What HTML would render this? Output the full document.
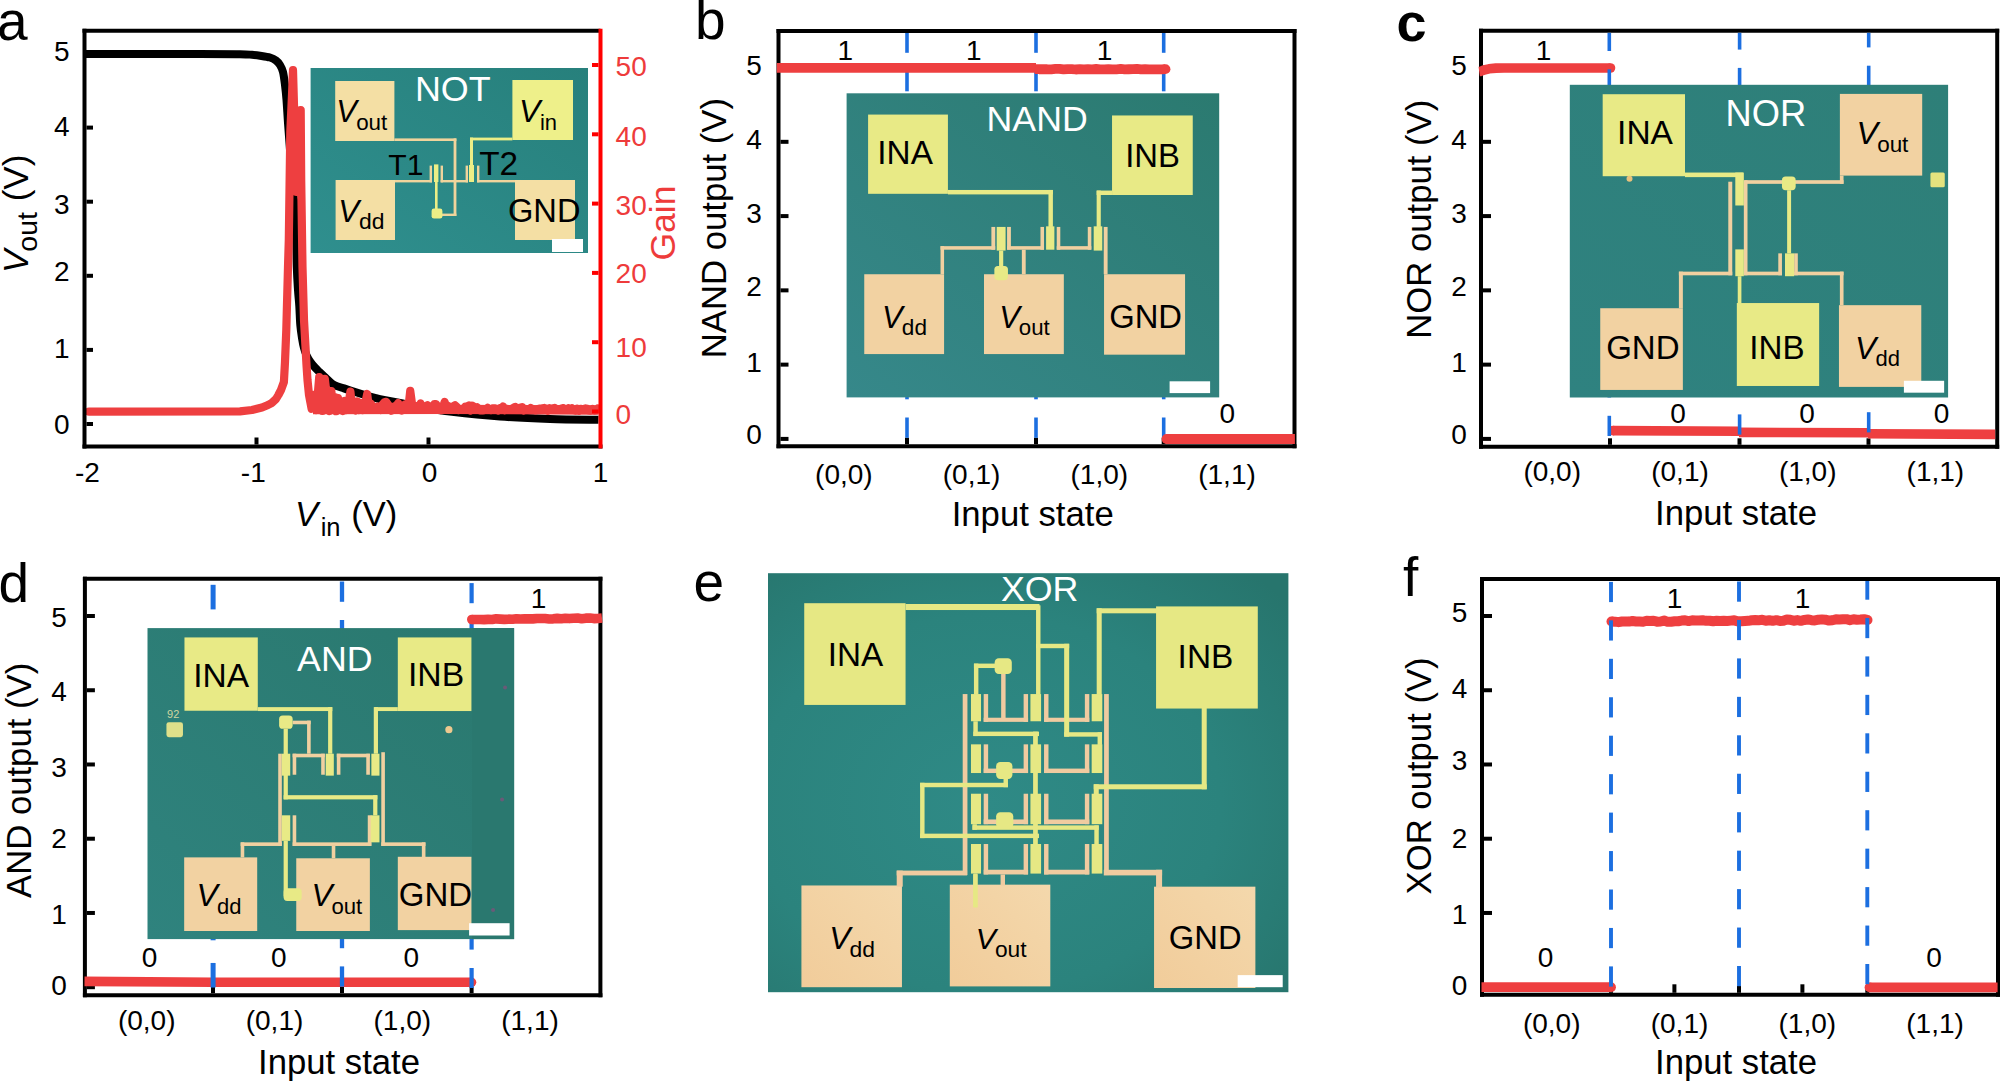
<!DOCTYPE html>
<html lang="en"><head><meta charset="utf-8"><title>Logic gates figure</title>
<style>html,body{margin:0;padding:0;background:#fff}svg{display:block}text{font-family:"Liberation Sans", Arial, sans-serif}</style>
</head><body>
<svg width="2000" height="1082" viewBox="0 0 2000 1082">
<defs>
<linearGradient id="tealA" x1="0" y1="1" x2="1" y2="0"><stop offset="0" stop-color="#2f8f8e"/><stop offset="1" stop-color="#27807c"/></linearGradient>
<linearGradient id="tealB" x1="0" y1="1" x2="1" y2="0"><stop offset="0" stop-color="#36888a"/><stop offset="1" stop-color="#2b7a70"/></linearGradient>
<linearGradient id="tealC" x1="0" y1="1" x2="1" y2="0"><stop offset="0" stop-color="#2f8280"/><stop offset="1" stop-color="#2e7f78"/></linearGradient>
<linearGradient id="tealD" x1="0" y1="1" x2="1" y2="0"><stop offset="0" stop-color="#2f837e"/><stop offset="1" stop-color="#2a786e"/></linearGradient>
<linearGradient id="padE" x1="0" y1="1" x2="1" y2="0"><stop offset="0" stop-color="#f1cc9a"/><stop offset="1" stop-color="#f4d8ac"/></linearGradient>
<radialGradient id="tealE" cx="0.42" cy="0.55" r="0.75"><stop offset="0" stop-color="#2f8a86"/><stop offset="0.6" stop-color="#2b837d"/><stop offset="1" stop-color="#27756d"/></radialGradient>
</defs>
<rect width="2000" height="1082" fill="#fff"/>
<rect x="310.6" y="68" width="277.4" height="185" fill="url(#tealA)"/>
<rect x="335.2" y="81" width="59.2" height="60" fill="#f4dfa4"/>
<rect x="512.4" y="80" width="60.6" height="60" fill="#eef08a"/>
<rect x="335.6" y="180" width="59.4" height="60" fill="#f4dfa4"/>
<rect x="515" y="180" width="60" height="60" fill="#f4dfa4"/>
<rect x="552" y="239" width="31" height="13" fill="#fff"/>
<rect x="394.4" y="138.4" width="62" height="2.6" fill="#f0d49c"/>
<rect x="453.6" y="138.4" width="2.8" height="77.6" fill="#f0d49c"/>
<rect x="442" y="213.6" width="14.4" height="2.4" fill="#f0d49c"/>
<rect x="429.6" y="165.6" width="2.4" height="16.8" fill="#f0d49c"/>
<rect x="440.6" y="165.6" width="2.4" height="16.8" fill="#f0d49c"/>
<rect x="395" y="180" width="37" height="2.4" fill="#f0d49c"/>
<rect x="440.6" y="180" width="27.4" height="2.4" fill="#f0d49c"/>
<rect x="465.6" y="165.6" width="2.4" height="16.8" fill="#f0d49c"/>
<rect x="477" y="165.6" width="2.4" height="16.8" fill="#f0d49c"/>
<rect x="477" y="180" width="38" height="2.4" fill="#f0d49c"/>
<rect x="470" y="137.6" width="42.4" height="2.8" fill="#ecee86"/>
<rect x="470" y="137.6" width="3" height="28.4" fill="#ecee86"/>
<rect x="469" y="165" width="5" height="17" fill="#ecee86"/>
<rect x="434" y="164.4" width="4.4" height="17.6" fill="#ecee86"/>
<rect x="435" y="181" width="2.6" height="29" fill="#ecee86"/>
<rect x="431.6" y="208.6" width="10.8" height="10" fill="#ecee86" rx="2.4"/>
<text x="414.94" y="101.4" font-size="35.91" fill="#fff" text-anchor="start">NOT</text>
<text x="336.2" y="122.3" font-size="30.87" fill="#000" text-anchor="start" font-style="italic">V</text>
<text x="356.15" y="129.7" font-size="22.39" fill="#000" text-anchor="start">out</text>
<text x="519.01" y="122.3" font-size="31.94" fill="#000" text-anchor="start" font-style="italic">V</text>
<text x="539.92" y="129.7" font-size="21.93" fill="#000" text-anchor="start">in</text>
<text x="388.32" y="175" font-size="30.14" fill="#000" text-anchor="start">T1</text>
<text x="479.25" y="175" font-size="33.32" fill="#000" text-anchor="start">T2</text>
<text x="338.26" y="222.4" font-size="31.33" fill="#000" text-anchor="start" font-style="italic">V</text>
<text x="359.03" y="229.4" font-size="22.89" fill="#000" text-anchor="start">dd</text>
<text x="507.97" y="222.4" font-size="32.66" fill="#000" text-anchor="start">GND</text>
<path d="M84.5 54 C103.75 54 174.08 53.97 200 54 C225.92 54.03 231.33 54.07 240 54.2 C248.67 54.33 248.67 54.55 252 54.8 C255.33 55.05 257 55.25 260 55.7 C263 56.15 267.33 56.7 270 57.5 C272.67 58.3 274.33 59.25 276 60.5 C277.67 61.75 278.83 63.08 280 65 C281.17 66.92 282.17 68.67 283 72 C283.83 75.33 284.42 80.33 285 85 C285.58 89.67 286 93.67 286.5 100 C287 106.33 287.42 114.67 288 123 C288.58 131.33 289.33 140.5 290 150 C290.67 159.5 291.33 171.67 292 180 C292.67 188.33 293.33 192 294 200 C294.67 208 295.53 216.83 296 228 C296.47 239.17 296.47 256.67 296.8 267 C297.13 277.33 297.58 283.5 298 290 C298.42 296.5 298.92 300.17 299.3 306 C299.68 311.83 299.85 319.67 300.3 325 C300.75 330.33 301.38 334.17 302 338 C302.62 341.83 303.22 345.07 304 348 C304.78 350.93 305.62 353.27 306.7 355.6 C307.78 357.93 309.08 359.97 310.5 362 C311.92 364.03 313.62 366.05 315.2 367.8 C316.78 369.55 317.87 370.47 320 372.5 C322.13 374.53 325.63 377.92 328 380 C330.37 382.08 331.53 383.6 334.2 385 C336.87 386.4 341.03 387.4 344 388.4 C346.97 389.4 348 389.73 352 391 C356 392.27 364 394.8 368 396 C372 397.2 373.33 397.53 376 398.2 C378.67 398.87 380 399.2 384 400 C388 400.8 394 401.83 400 403 C406 404.17 411.33 405.53 420 407 C428.67 408.47 438.67 410.22 452 411.8 C465.33 413.38 483.67 415.3 500 416.5 C516.33 417.7 533.58 418.45 550 419 C566.42 419.55 590.42 419.67 598.5 419.8" fill="none" stroke="#000" stroke-width="8" stroke-linejoin="round"/>
<path d="M313 409.6 L452 409.4 L598.5 410" fill="none" stroke="#ee3f40" stroke-width="9.4"/>
<path d="M89 411.7 L240 411.3 L252 410 L262 407.5 L268 405 L272 402.8 L276 399 L278.4 395 L281 390 L283.9 382 L285 362 L286.3 330 L288 267 L288.8 240 L290.3 132 L292 95 L293 70 L294.7 130 L296.5 192 L298.4 150 L300.7 110 L301.2 180 L302.5 267 L304 320 L305.4 345 L306.5 365 L307.5 380 L309 395 L311.6 408.8 L314 395 L316.5 410 L319.2 377.2 L321 392 L322.4 411 L324.8 378.8 L327 398 L329.6 411 L331.3 391 L333 405 L334.6 397 L336.2 411.2 L338 398 L339.6 409 L341.3 403 L343 411 L344.8 401 L346.5 410 L348.5 404 L350.4 391.6 L352.2 409 L354 402 L355.8 410.5 L357.5 401.5 L359.2 410 L361 403 L362.8 410 L364.8 405 L367.2 394 L369 409 L370.7 403.5 L372.4 406.14 L374.12 408.88 L375.84 407.18 L377.56 406.43 L379.28 406.82 L381 409.99 L382.72 404.4 L384.44 402.2 L386.16 401.82 L387.88 404.28 L389.6 406.35 L391.32 410.79 L393.04 409.81 L394.76 406.15 L396.48 405.59 L398.2 403.2 L399.92 409.72 L401.64 410.57 L403.36 409.37 L405.08 404.44 L406.8 405.02 L408.52 407 L410.24 390.8 L411.96 403.52 L413.68 407.57 L415.4 408.25 L417.12 406.17 L418.84 408.26 L420.56 403.45 L422.28 406.92 L424 406.17 L425.72 406.23 L427.44 405.19 L429.16 406.56 L430.88 406.55 L432.6 407.51 L434.32 404 L436.04 404.07 L437.76 407.69 L439.48 408.13 L441.2 410.19 L442.92 407.17 L444.64 402 L446.36 406.94 L448.08 405.9 L449.8 407.08 L451.52 408.67 L453.24 406.2 L454.96 405.21 L456.68 406.81 L458.4 410.04 L460.12 409.25 L461.84 409.24 L463.56 409.85 L465.28 406.6 L467 406.5 L468.72 405.55 L470.44 410.52 L472.16 405.61 L473.88 406.52 L475.6 409.09 L477.32 407.47 L479.04 410.07 L480.76 410.51 L482.48 410.44 L484.2 410.23 L485.92 409.25 L487.64 407.84 L489.36 409.95 L491.08 410.06 L492.8 408.38 L494.52 408.32 L496.24 408.67 L497.96 410.33 L499.68 408.33 L501.4 409.59 L503.12 406.57 L504.84 410.14 L506.56 408.8 L508.28 409.1 L510 409.06 L511.72 408.81 L513.44 407.86 L515.16 406.94 L516.88 408.76 L518.6 408.34 L520.32 407.65 L522.04 407.15 L523.76 410.47 L525.48 408.96 L527.2 409.56 L528.92 409.21 L530.64 407.95 L532.36 409.04 L534.08 409.45 L535.8 410.35 L537.52 409.19 L539.24 408.66 L540.96 408.72 L542.68 408.3 L544.4 407.95 L546.12 408.63 L547.84 410.69 L549.56 408.21 L551.28 408.54 L553 408.85 L554.72 407.94 L556.44 409.07 L558.16 409.2 L559.88 409.21 L561.6 408.43 L563.32 408.11 L565.04 409.87 L566.76 409.59 L568.48 408.24 L570.2 409.45 L571.92 408.26 L573.64 409.83 L575.36 410.63 L577.08 408.94 L578.8 410.58 L580.52 408.78 L582.24 409.14 L583.96 408.96 L585.68 408.44 L587.4 408.81 L589.12 410.44 L590.84 410.59 L592.56 409.01 L594.28 410.57 L596 410.43 L597.72 408.69" fill="none" stroke="#ee3f40" stroke-width="8.2" stroke-linejoin="round" stroke-linecap="round"/>
<line x1="82.5" y1="30.8" x2="600.5" y2="30.8" stroke="#000" stroke-width="4"/>
<line x1="84.5" y1="28.8" x2="84.5" y2="448.5" stroke="#000" stroke-width="4"/>
<line x1="82.5" y1="446.5" x2="602.5" y2="446.5" stroke="#000" stroke-width="4"/>
<line x1="600.5" y1="28.8" x2="600.5" y2="448.5" stroke="#ff0000" stroke-width="4"/>
<line x1="86.5" y1="424" x2="93" y2="424" stroke="#000" stroke-width="4"/>
<text x="69.5" y="434.2" font-size="28" fill="#000" text-anchor="end">0</text>
<line x1="86.5" y1="349.9" x2="93" y2="349.9" stroke="#000" stroke-width="4"/>
<text x="69.5" y="357.5" font-size="28" fill="#000" text-anchor="end">1</text>
<line x1="86.5" y1="275.8" x2="93" y2="275.8" stroke="#000" stroke-width="4"/>
<text x="69.5" y="280.7" font-size="28" fill="#000" text-anchor="end">2</text>
<line x1="86.5" y1="201.7" x2="93" y2="201.7" stroke="#000" stroke-width="4"/>
<text x="69.5" y="214" font-size="28" fill="#000" text-anchor="end">3</text>
<line x1="86.5" y1="127.6" x2="93" y2="127.6" stroke="#000" stroke-width="4"/>
<text x="69.5" y="136.3" font-size="28" fill="#000" text-anchor="end">4</text>
<line x1="86.5" y1="53.5" x2="93" y2="53.5" stroke="#000" stroke-width="4"/>
<text x="69.5" y="60.5" font-size="28" fill="#000" text-anchor="end">5</text>
<line x1="256.5" y1="444.5" x2="256.5" y2="437.5" stroke="#000" stroke-width="4"/>
<line x1="428.5" y1="444.5" x2="428.5" y2="437.5" stroke="#000" stroke-width="4"/>
<text x="87.5" y="482" font-size="28" fill="#000" text-anchor="middle">-2</text>
<text x="253.3" y="482" font-size="28" fill="#000" text-anchor="middle">-1</text>
<text x="429.5" y="482" font-size="28" fill="#000" text-anchor="middle">0</text>
<text x="600.5" y="482" font-size="28" fill="#000" text-anchor="middle">1</text>
<line x1="592" y1="411.5" x2="598.5" y2="411.5" stroke="#ff0000" stroke-width="4"/>
<text x="615.6" y="424" font-size="28" fill="#ee3b3b" text-anchor="start">0</text>
<line x1="592" y1="342.2" x2="598.5" y2="342.2" stroke="#ff0000" stroke-width="4"/>
<text x="615.6" y="357.3" font-size="28" fill="#ee3b3b" text-anchor="start">10</text>
<line x1="592" y1="272.9" x2="598.5" y2="272.9" stroke="#ff0000" stroke-width="4"/>
<text x="615.6" y="282.7" font-size="28" fill="#ee3b3b" text-anchor="start">20</text>
<line x1="592" y1="203.6" x2="598.5" y2="203.6" stroke="#ff0000" stroke-width="4"/>
<text x="615.6" y="214.7" font-size="28" fill="#ee3b3b" text-anchor="start">30</text>
<line x1="592" y1="134.3" x2="598.5" y2="134.3" stroke="#ff0000" stroke-width="4"/>
<text x="615.6" y="146" font-size="28" fill="#ee3b3b" text-anchor="start">40</text>
<line x1="592" y1="65" x2="598.5" y2="65" stroke="#ff0000" stroke-width="4"/>
<text x="615.6" y="75.8" font-size="28" fill="#ee3b3b" text-anchor="start">50</text>
<text x="0" y="0" font-size="35" fill="#000" text-anchor="start" transform="translate(27.5 273) rotate(-90)"><tspan font-style="italic">V</tspan><tspan font-size="28.5" dy="9" dx="-2">out</tspan><tspan dy="-9" dx="1"> (V)</tspan></text>
<text x="295" y="525.8" font-size="34.5" fill="#000" text-anchor="start"><tspan font-style="italic">V</tspan><tspan font-size="25.5" dy="10.4" dx="2.7">in</tspan><tspan dy="-10.4" dx="1"> (V)</tspan></text>
<text x="0" y="0" font-size="35.5" fill="#ee3b3b" text-anchor="start" transform="translate(674.6 260.6) rotate(-90)">Gain</text>
<text x="-3" y="40" font-size="55" fill="#000" text-anchor="start">a</text>
<line x1="776.5" y1="31" x2="1296.5" y2="31" stroke="#000" stroke-width="4"/>
<line x1="778.5" y1="29" x2="778.5" y2="448.2" stroke="#000" stroke-width="4"/>
<line x1="776.5" y1="446.2" x2="1296.5" y2="446.2" stroke="#000" stroke-width="4"/>
<line x1="1294.5" y1="29" x2="1294.5" y2="448.2" stroke="#000" stroke-width="4"/>
<line x1="780.5" y1="438.9" x2="788.5" y2="438.9" stroke="#000" stroke-width="4"/>
<text x="761.8" y="444" font-size="28" fill="#000" text-anchor="end">0</text>
<line x1="780.5" y1="364.63" x2="788.5" y2="364.63" stroke="#000" stroke-width="4"/>
<text x="761.8" y="372.2" font-size="28" fill="#000" text-anchor="end">1</text>
<line x1="780.5" y1="290.36" x2="788.5" y2="290.36" stroke="#000" stroke-width="4"/>
<text x="761.8" y="295.9" font-size="28" fill="#000" text-anchor="end">2</text>
<line x1="780.5" y1="216.09" x2="788.5" y2="216.09" stroke="#000" stroke-width="4"/>
<text x="761.8" y="223.2" font-size="28" fill="#000" text-anchor="end">3</text>
<line x1="780.5" y1="141.82" x2="788.5" y2="141.82" stroke="#000" stroke-width="4"/>
<text x="761.8" y="148.5" font-size="28" fill="#000" text-anchor="end">4</text>
<line x1="780.5" y1="67.55" x2="788.5" y2="67.55" stroke="#000" stroke-width="4"/>
<text x="761.8" y="75.1" font-size="28" fill="#000" text-anchor="end">5</text>
<line x1="907" y1="444.2" x2="907" y2="437.7" stroke="#000" stroke-width="4"/>
<line x1="1036" y1="444.2" x2="1036" y2="437.7" stroke="#000" stroke-width="4"/>
<line x1="1163.7" y1="444.2" x2="1163.7" y2="437.7" stroke="#000" stroke-width="4"/>
<line x1="907" y1="33" x2="907" y2="52.8" stroke="#1c6fe0" stroke-width="3.6"/>
<line x1="907" y1="71" x2="907" y2="91.3" stroke="#1c6fe0" stroke-width="3.6"/>
<line x1="907" y1="109.5" x2="907" y2="129.8" stroke="#1c6fe0" stroke-width="3.6"/>
<line x1="907" y1="148" x2="907" y2="168.3" stroke="#1c6fe0" stroke-width="3.6"/>
<line x1="907" y1="186.5" x2="907" y2="206.8" stroke="#1c6fe0" stroke-width="3.6"/>
<line x1="907" y1="225" x2="907" y2="245.3" stroke="#1c6fe0" stroke-width="3.6"/>
<line x1="907" y1="263.5" x2="907" y2="283.8" stroke="#1c6fe0" stroke-width="3.6"/>
<line x1="907" y1="302" x2="907" y2="322.3" stroke="#1c6fe0" stroke-width="3.6"/>
<line x1="907" y1="340.5" x2="907" y2="360.8" stroke="#1c6fe0" stroke-width="3.6"/>
<line x1="907" y1="379" x2="907" y2="399.3" stroke="#1c6fe0" stroke-width="3.6"/>
<line x1="907" y1="417.5" x2="907" y2="437.8" stroke="#1c6fe0" stroke-width="3.6"/>
<line x1="1036" y1="33" x2="1036" y2="52.8" stroke="#1c6fe0" stroke-width="3.6"/>
<line x1="1036" y1="71" x2="1036" y2="91.3" stroke="#1c6fe0" stroke-width="3.6"/>
<line x1="1036" y1="109.5" x2="1036" y2="129.8" stroke="#1c6fe0" stroke-width="3.6"/>
<line x1="1036" y1="148" x2="1036" y2="168.3" stroke="#1c6fe0" stroke-width="3.6"/>
<line x1="1036" y1="186.5" x2="1036" y2="206.8" stroke="#1c6fe0" stroke-width="3.6"/>
<line x1="1036" y1="225" x2="1036" y2="245.3" stroke="#1c6fe0" stroke-width="3.6"/>
<line x1="1036" y1="263.5" x2="1036" y2="283.8" stroke="#1c6fe0" stroke-width="3.6"/>
<line x1="1036" y1="302" x2="1036" y2="322.3" stroke="#1c6fe0" stroke-width="3.6"/>
<line x1="1036" y1="340.5" x2="1036" y2="360.8" stroke="#1c6fe0" stroke-width="3.6"/>
<line x1="1036" y1="379" x2="1036" y2="399.3" stroke="#1c6fe0" stroke-width="3.6"/>
<line x1="1036" y1="417.5" x2="1036" y2="437.8" stroke="#1c6fe0" stroke-width="3.6"/>
<line x1="1163.7" y1="33" x2="1163.7" y2="52.8" stroke="#1c6fe0" stroke-width="3.6"/>
<line x1="1163.7" y1="71" x2="1163.7" y2="91.3" stroke="#1c6fe0" stroke-width="3.6"/>
<line x1="1163.7" y1="109.5" x2="1163.7" y2="129.8" stroke="#1c6fe0" stroke-width="3.6"/>
<line x1="1163.7" y1="148" x2="1163.7" y2="168.3" stroke="#1c6fe0" stroke-width="3.6"/>
<line x1="1163.7" y1="186.5" x2="1163.7" y2="206.8" stroke="#1c6fe0" stroke-width="3.6"/>
<line x1="1163.7" y1="225" x2="1163.7" y2="245.3" stroke="#1c6fe0" stroke-width="3.6"/>
<line x1="1163.7" y1="263.5" x2="1163.7" y2="283.8" stroke="#1c6fe0" stroke-width="3.6"/>
<line x1="1163.7" y1="302" x2="1163.7" y2="322.3" stroke="#1c6fe0" stroke-width="3.6"/>
<line x1="1163.7" y1="340.5" x2="1163.7" y2="360.8" stroke="#1c6fe0" stroke-width="3.6"/>
<line x1="1163.7" y1="379" x2="1163.7" y2="399.3" stroke="#1c6fe0" stroke-width="3.6"/>
<line x1="1163.7" y1="417.5" x2="1163.7" y2="437.8" stroke="#1c6fe0" stroke-width="3.6"/>
<path d="M776.8 67.8 L1036 67.8" fill="none" stroke="#ee3f40" stroke-width="9.8" stroke-linecap="butt" stroke-linejoin="round"/>
<path d="M1035 69.04 L1039.08 69.23 L1043.16 69.12 L1047.23 69.26 L1051.31 69.28 L1055.39 68.94 L1059.47 68.91 L1063.55 69.4 L1067.62 69.06 L1071.7 69.04 L1075.78 69.5 L1079.86 69.18 L1083.94 69.4 L1088.02 69.19 L1092.09 69.28 L1096.17 68.99 L1100.25 69.28 L1104.33 69.42 L1108.41 69.21 L1112.48 69.34 L1116.56 69.3 L1120.64 68.94 L1124.72 69.35 L1128.8 69.25 L1132.88 69.08 L1136.95 68.92 L1141.03 69.42 L1145.11 69.18 L1149.19 69.33 L1153.27 69.43 L1157.34 69.33 L1161.42 69.45 L1165.5 69.14" fill="none" stroke="#ee3f40" stroke-width="9.8" stroke-linecap="butt" stroke-linejoin="round"/>
<circle cx="1165.5" cy="69.14" r="4.9" fill="#ee3f40"/>
<path d="M1166.5 439 L1294.9 439" fill="none" stroke="#ee3f40" stroke-width="9.8" stroke-linecap="butt" stroke-linejoin="round"/>
<circle cx="1166.5" cy="439" r="4.9" fill="#ee3f40"/>
<rect x="846.6" y="93.3" width="372.6" height="304.1" fill="url(#tealB)"/>
<rect x="868.09" y="114.57" width="79.83" height="79.24" fill="#e8ea86"/>
<rect x="1112.03" y="115.46" width="80.72" height="79.54" fill="#e8ea86"/>
<rect x="864.25" y="274.24" width="79.83" height="79.83" fill="#f2d2a2"/>
<rect x="984" y="274.24" width="79.83" height="79.83" fill="#f2d2a2"/>
<rect x="1104.04" y="274.24" width="81.02" height="80.43" fill="#f2d2a2"/>
<rect x="1169.6" y="381.3" width="40.5" height="11.8" fill="#fff"/>
<rect x="940.53" y="246.15" width="3.55" height="28.09" fill="#f1d0a0"/>
<rect x="940.53" y="246.15" width="54.7" height="3.55" fill="#f1d0a0"/>
<rect x="991.39" y="226.93" width="3.84" height="22.77" fill="#f1d0a0"/>
<rect x="1007.06" y="226.93" width="3.84" height="22.77" fill="#f1d0a0"/>
<rect x="1007.06" y="246.15" width="36.96" height="3.55" fill="#f1d0a0"/>
<rect x="1040.47" y="226.93" width="3.55" height="22.77" fill="#f1d0a0"/>
<rect x="1021.85" y="249.7" width="3.84" height="24.54" fill="#f1d0a0"/>
<rect x="1056.74" y="226.93" width="3.55" height="22.77" fill="#f1d0a0"/>
<rect x="1056.74" y="246.15" width="34.59" height="3.55" fill="#f1d0a0"/>
<rect x="1087.78" y="226.93" width="3.55" height="22.77" fill="#f1d0a0"/>
<rect x="1103.75" y="226.93" width="3.84" height="47.31" fill="#f1d0a0"/>
<rect x="947.92" y="189.97" width="104.97" height="4.44" fill="#e8ea86"/>
<rect x="1048.46" y="189.97" width="4.44" height="36.96" fill="#e8ea86"/>
<rect x="1046.09" y="226.34" width="8.28" height="23.36" fill="#e8ea86"/>
<rect x="1096.65" y="190.56" width="15.38" height="4.44" fill="#e8ea86"/>
<rect x="1096.65" y="190.56" width="4.14" height="36.37" fill="#e8ea86"/>
<rect x="1093.7" y="226.34" width="8.57" height="24.25" fill="#e8ea86"/>
<rect x="996.71" y="226.93" width="8.87" height="23.65" fill="#e8ea86"/>
<rect x="999.08" y="250.58" width="4.14" height="16.26" fill="#e8ea86"/>
<rect x="994.35" y="265.96" width="13.6" height="14.19" fill="#e8ea86" rx="3.55"/>
<text x="986.55" y="130.7" font-size="35.71" fill="#fff" text-anchor="start">NAND</text>
<text x="877.32" y="164.4" font-size="33.32" fill="#000" text-anchor="start">INA</text>
<text x="1125.26" y="167.3" font-size="32.84" fill="#000" text-anchor="start">INB</text>
<text x="881.99" y="327.5" font-size="31.03" fill="#000" text-anchor="start" font-style="italic">V</text>
<text x="901.84" y="334.6" font-size="22.59" fill="#000" text-anchor="start">dd</text>
<text x="999.29" y="327.5" font-size="31.03" fill="#000" text-anchor="start" font-style="italic">V</text>
<text x="1018.85" y="334.6" font-size="22.24" fill="#000" text-anchor="start">out</text>
<text x="1109.16" y="327.5" font-size="32.8" fill="#000" text-anchor="start">GND</text>
<text x="843.9" y="484" font-size="28" fill="#000" text-anchor="middle">(0,0)</text>
<text x="971.6" y="484" font-size="28" fill="#000" text-anchor="middle">(0,1)</text>
<text x="1099.3" y="484" font-size="28" fill="#000" text-anchor="middle">(1,0)</text>
<text x="1227" y="484" font-size="28" fill="#000" text-anchor="middle">(1,1)</text>
<text x="1032.7" y="525.7" font-size="34.7" fill="#000" text-anchor="middle">Input state</text>
<text x="0" y="0" font-size="34.7" fill="#000" text-anchor="middle" transform="translate(725.7 228.1) rotate(-90)">NAND output (V)</text>
<text x="845.3" y="59.5" font-size="28" fill="#000" text-anchor="middle">1</text>
<text x="973.8" y="59.5" font-size="28" fill="#000" text-anchor="middle">1</text>
<text x="1104.6" y="59.5" font-size="28" fill="#000" text-anchor="middle">1</text>
<text x="1227.2" y="422.6" font-size="28" fill="#000" text-anchor="middle">0</text>
<text x="695" y="38.5" font-size="55" fill="#000" text-anchor="start">b</text>
<line x1="1479" y1="30.8" x2="1999.2" y2="30.8" stroke="#000" stroke-width="4"/>
<line x1="1481" y1="28.8" x2="1481" y2="448.8" stroke="#000" stroke-width="4"/>
<line x1="1479" y1="446.8" x2="1999.2" y2="446.8" stroke="#000" stroke-width="4"/>
<line x1="1997.2" y1="28.8" x2="1997.2" y2="448.8" stroke="#000" stroke-width="4"/>
<line x1="1483" y1="438.9" x2="1491" y2="438.9" stroke="#000" stroke-width="4"/>
<text x="1466.8" y="444" font-size="28" fill="#000" text-anchor="end">0</text>
<line x1="1483" y1="364.63" x2="1491" y2="364.63" stroke="#000" stroke-width="4"/>
<text x="1466.8" y="372.2" font-size="28" fill="#000" text-anchor="end">1</text>
<line x1="1483" y1="290.36" x2="1491" y2="290.36" stroke="#000" stroke-width="4"/>
<text x="1466.8" y="295.9" font-size="28" fill="#000" text-anchor="end">2</text>
<line x1="1483" y1="216.09" x2="1491" y2="216.09" stroke="#000" stroke-width="4"/>
<text x="1466.8" y="223.2" font-size="28" fill="#000" text-anchor="end">3</text>
<line x1="1483" y1="141.82" x2="1491" y2="141.82" stroke="#000" stroke-width="4"/>
<text x="1466.8" y="148.5" font-size="28" fill="#000" text-anchor="end">4</text>
<line x1="1483" y1="67.55" x2="1491" y2="67.55" stroke="#000" stroke-width="4"/>
<text x="1466.8" y="75.1" font-size="28" fill="#000" text-anchor="end">5</text>
<line x1="1610" y1="444.8" x2="1610" y2="438.3" stroke="#000" stroke-width="4"/>
<line x1="1739.5" y1="444.8" x2="1739.5" y2="438.3" stroke="#000" stroke-width="4"/>
<line x1="1868.5" y1="444.8" x2="1868.5" y2="438.3" stroke="#000" stroke-width="4"/>
<path d="M1479.2 71.6 L1480.6 71.4 L1484 70 L1489 68.8 L1496 68.1 L1504 68 L1610.5 68" fill="none" stroke="#ee3f40" stroke-width="9.6" stroke-linecap="butt" stroke-linejoin="round"/>
<circle cx="1610.5" cy="68" r="4.8" fill="#ee3f40"/>
<path d="M1613 430.6 L1739.5 431.2" fill="none" stroke="#ee3f40" stroke-width="9.6" stroke-linecap="butt" stroke-linejoin="round"/>
<circle cx="1613" cy="430.6" r="4.8" fill="#ee3f40"/>
<path d="M1739 432.4 L1868.5 432.8" fill="none" stroke="#ee3f40" stroke-width="9.6" stroke-linecap="butt" stroke-linejoin="round"/>
<path d="M1868 433.8 L1995.2 434.4" fill="none" stroke="#ee3f40" stroke-width="9.6" stroke-linecap="butt" stroke-linejoin="round"/>
<line x1="1609.3" y1="32.8" x2="1609.3" y2="51" stroke="#1c6fe0" stroke-width="3.6"/>
<line x1="1609.3" y1="69.3" x2="1609.3" y2="89.5" stroke="#1c6fe0" stroke-width="3.6"/>
<line x1="1609.3" y1="107.8" x2="1609.3" y2="128" stroke="#1c6fe0" stroke-width="3.6"/>
<line x1="1609.3" y1="146.3" x2="1609.3" y2="166.5" stroke="#1c6fe0" stroke-width="3.6"/>
<line x1="1609.3" y1="184.8" x2="1609.3" y2="205" stroke="#1c6fe0" stroke-width="3.6"/>
<line x1="1609.3" y1="223.3" x2="1609.3" y2="243.5" stroke="#1c6fe0" stroke-width="3.6"/>
<line x1="1609.3" y1="261.8" x2="1609.3" y2="282" stroke="#1c6fe0" stroke-width="3.6"/>
<line x1="1609.3" y1="300.3" x2="1609.3" y2="320.5" stroke="#1c6fe0" stroke-width="3.6"/>
<line x1="1609.3" y1="338.8" x2="1609.3" y2="359" stroke="#1c6fe0" stroke-width="3.6"/>
<line x1="1609.3" y1="377.3" x2="1609.3" y2="397.5" stroke="#1c6fe0" stroke-width="3.6"/>
<line x1="1609.3" y1="415.8" x2="1609.3" y2="436" stroke="#1c6fe0" stroke-width="3.6"/>
<line x1="1739.6" y1="32.8" x2="1739.6" y2="49.6" stroke="#1c6fe0" stroke-width="3.6"/>
<line x1="1739.6" y1="67.9" x2="1739.6" y2="88.1" stroke="#1c6fe0" stroke-width="3.6"/>
<line x1="1739.6" y1="106.4" x2="1739.6" y2="126.6" stroke="#1c6fe0" stroke-width="3.6"/>
<line x1="1739.6" y1="144.9" x2="1739.6" y2="165.1" stroke="#1c6fe0" stroke-width="3.6"/>
<line x1="1739.6" y1="183.4" x2="1739.6" y2="203.6" stroke="#1c6fe0" stroke-width="3.6"/>
<line x1="1739.6" y1="221.9" x2="1739.6" y2="242.1" stroke="#1c6fe0" stroke-width="3.6"/>
<line x1="1739.6" y1="260.4" x2="1739.6" y2="280.6" stroke="#1c6fe0" stroke-width="3.6"/>
<line x1="1739.6" y1="298.9" x2="1739.6" y2="319.1" stroke="#1c6fe0" stroke-width="3.6"/>
<line x1="1739.6" y1="337.4" x2="1739.6" y2="357.6" stroke="#1c6fe0" stroke-width="3.6"/>
<line x1="1739.6" y1="375.9" x2="1739.6" y2="396.1" stroke="#1c6fe0" stroke-width="3.6"/>
<line x1="1739.6" y1="414.4" x2="1739.6" y2="434.6" stroke="#1c6fe0" stroke-width="3.6"/>
<line x1="1868.7" y1="32.8" x2="1868.7" y2="47.4" stroke="#1c6fe0" stroke-width="3.6"/>
<line x1="1868.7" y1="65.7" x2="1868.7" y2="85.9" stroke="#1c6fe0" stroke-width="3.6"/>
<line x1="1868.7" y1="104.2" x2="1868.7" y2="124.4" stroke="#1c6fe0" stroke-width="3.6"/>
<line x1="1868.7" y1="142.7" x2="1868.7" y2="162.9" stroke="#1c6fe0" stroke-width="3.6"/>
<line x1="1868.7" y1="181.2" x2="1868.7" y2="201.4" stroke="#1c6fe0" stroke-width="3.6"/>
<line x1="1868.7" y1="219.7" x2="1868.7" y2="239.9" stroke="#1c6fe0" stroke-width="3.6"/>
<line x1="1868.7" y1="258.2" x2="1868.7" y2="278.4" stroke="#1c6fe0" stroke-width="3.6"/>
<line x1="1868.7" y1="296.7" x2="1868.7" y2="316.9" stroke="#1c6fe0" stroke-width="3.6"/>
<line x1="1868.7" y1="335.2" x2="1868.7" y2="355.4" stroke="#1c6fe0" stroke-width="3.6"/>
<line x1="1868.7" y1="373.7" x2="1868.7" y2="393.9" stroke="#1c6fe0" stroke-width="3.6"/>
<line x1="1868.7" y1="412.2" x2="1868.7" y2="432.4" stroke="#1c6fe0" stroke-width="3.6"/>
<rect x="1569.8" y="84.8" width="378.3" height="312.7" fill="url(#tealC)"/>
<rect x="1602.68" y="94.21" width="82.32" height="82.01" fill="#e8ea86"/>
<rect x="1839.88" y="93.9" width="82.32" height="81.71" fill="#f2d2a2"/>
<rect x="1600.24" y="308.23" width="82.62" height="81.71" fill="#f2d2a2"/>
<rect x="1736.83" y="303.05" width="82.32" height="82.93" fill="#e8ea86"/>
<rect x="1838.96" y="305.18" width="82.32" height="81.71" fill="#f2d2a2"/>
<rect x="1930.43" y="172.56" width="14.33" height="14.63" fill="#e4e27e" rx="1.52"/>
<rect x="1903.9" y="380.79" width="40.24" height="11.89" fill="#fff"/>
<circle cx="1629.51" cy="178.66" r="3" fill="#e9c27c"/>
<rect x="1744.45" y="180.18" width="99.09" height="3.66" fill="#f1d0a0"/>
<rect x="1839.88" y="175.61" width="3.66" height="8.23" fill="#f1d0a0"/>
<rect x="1743.84" y="180.18" width="3.66" height="95.12" fill="#f1d0a0"/>
<rect x="1743.84" y="271.65" width="38.11" height="3.66" fill="#f1d0a0"/>
<rect x="1778.29" y="253.35" width="3.66" height="21.95" fill="#f1d0a0"/>
<rect x="1728.29" y="181.71" width="3.96" height="93.6" fill="#f1d0a0"/>
<rect x="1678.9" y="271.65" width="53.35" height="3.66" fill="#f1d0a0"/>
<rect x="1678.9" y="271.65" width="3.96" height="36.59" fill="#f1d0a0"/>
<rect x="1794.15" y="253.35" width="3.66" height="21.95" fill="#f1d0a0"/>
<rect x="1794.15" y="271.65" width="49.39" height="3.66" fill="#f1d0a0"/>
<rect x="1839.88" y="271.65" width="3.66" height="33.54" fill="#f1d0a0"/>
<rect x="1685" y="172.56" width="57.93" height="4.57" fill="#e8ea86"/>
<rect x="1735.3" y="172.56" width="8.54" height="32.93" fill="#e8ea86"/>
<rect x="1781.95" y="176.52" width="13.72" height="13.72" fill="#e8ea86" rx="3.66"/>
<rect x="1787.13" y="190.24" width="3.96" height="63.11" fill="#e8ea86"/>
<rect x="1785" y="253.35" width="9.15" height="22.87" fill="#e8ea86"/>
<rect x="1735.3" y="249.39" width="8.54" height="26.83" fill="#e8ea86"/>
<rect x="1737.74" y="276.22" width="3.66" height="27.44" fill="#e8ea86"/>
<text x="1725.51" y="125.7" font-size="36.27" fill="#fff" text-anchor="start">NOR</text>
<text x="1617.1" y="144.1" font-size="33.51" fill="#000" text-anchor="start">INA</text>
<text x="1856.58" y="144.1" font-size="32.24" fill="#000" text-anchor="start" font-style="italic">V</text>
<text x="1877.15" y="151.5" font-size="22.46" fill="#000" text-anchor="start">out</text>
<text x="1606.15" y="358.7" font-size="33.04" fill="#000" text-anchor="start">GND</text>
<text x="1749.23" y="358.7" font-size="33.17" fill="#000" text-anchor="start">INB</text>
<text x="1854.92" y="358.7" font-size="31.79" fill="#000" text-anchor="start" font-style="italic">V</text>
<text x="1875.47" y="366.3" font-size="21.99" fill="#000" text-anchor="start">dd</text>
<text x="1552.2" y="480.8" font-size="28" fill="#000" text-anchor="middle">(0,0)</text>
<text x="1680" y="480.8" font-size="28" fill="#000" text-anchor="middle">(0,1)</text>
<text x="1807.7" y="480.8" font-size="28" fill="#000" text-anchor="middle">(1,0)</text>
<text x="1935.4" y="480.8" font-size="28" fill="#000" text-anchor="middle">(1,1)</text>
<text x="1736" y="524.8" font-size="34.7" fill="#000" text-anchor="middle">Input state</text>
<text x="0" y="0" font-size="34.7" fill="#000" text-anchor="middle" transform="translate(1431 219.2) rotate(-90)">NOR output (V)</text>
<text x="1543.6" y="59.5" font-size="28" fill="#000" text-anchor="middle">1</text>
<text x="1678" y="422.6" font-size="28" fill="#000" text-anchor="middle">0</text>
<text x="1807" y="422.6" font-size="28" fill="#000" text-anchor="middle">0</text>
<text x="1941.6" y="422.6" font-size="28" fill="#000" text-anchor="middle">0</text>
<text x="1396.5" y="40.6" font-size="54" fill="#000" text-anchor="start" font-weight="bold">c</text>
<line x1="82.9" y1="578.8" x2="602.4" y2="578.8" stroke="#000" stroke-width="4"/>
<line x1="84.9" y1="576.8" x2="84.9" y2="997.2" stroke="#000" stroke-width="4"/>
<line x1="82.9" y1="995.2" x2="602.4" y2="995.2" stroke="#000" stroke-width="4"/>
<line x1="600.4" y1="576.8" x2="600.4" y2="997.2" stroke="#000" stroke-width="4"/>
<line x1="86.9" y1="987.2" x2="94.9" y2="987.2" stroke="#000" stroke-width="4"/>
<text x="66.8" y="995" font-size="28" fill="#000" text-anchor="end">0</text>
<line x1="86.9" y1="912.96" x2="94.9" y2="912.96" stroke="#000" stroke-width="4"/>
<text x="66.8" y="924.2" font-size="28" fill="#000" text-anchor="end">1</text>
<line x1="86.9" y1="838.72" x2="94.9" y2="838.72" stroke="#000" stroke-width="4"/>
<text x="66.8" y="848.4" font-size="28" fill="#000" text-anchor="end">2</text>
<line x1="86.9" y1="764.48" x2="94.9" y2="764.48" stroke="#000" stroke-width="4"/>
<text x="66.8" y="776.6" font-size="28" fill="#000" text-anchor="end">3</text>
<line x1="86.9" y1="690.24" x2="94.9" y2="690.24" stroke="#000" stroke-width="4"/>
<text x="66.8" y="701" font-size="28" fill="#000" text-anchor="end">4</text>
<line x1="86.9" y1="616" x2="94.9" y2="616" stroke="#000" stroke-width="4"/>
<text x="66.8" y="626.8" font-size="28" fill="#000" text-anchor="end">5</text>
<line x1="213" y1="993.2" x2="213" y2="986.7" stroke="#000" stroke-width="4"/>
<line x1="342" y1="993.2" x2="342" y2="986.7" stroke="#000" stroke-width="4"/>
<line x1="471.6" y1="993.2" x2="471.6" y2="986.7" stroke="#000" stroke-width="4"/>
<path d="M84.5 981.4 L213 982.2 L471.5 982.3" fill="none" stroke="#ee3f40" stroke-width="9.6" stroke-linecap="butt" stroke-linejoin="round"/>
<circle cx="471.5" cy="982.3" r="4.8" fill="#ee3f40"/>
<line x1="213.1" y1="584.8" x2="213.1" y2="609.4" stroke="#1c6fe0" stroke-width="5"/>
<line x1="213.1" y1="632.07" x2="213.1" y2="656.67" stroke="#1c6fe0" stroke-width="5"/>
<line x1="213.1" y1="679.34" x2="213.1" y2="703.94" stroke="#1c6fe0" stroke-width="5"/>
<line x1="213.1" y1="726.61" x2="213.1" y2="751.21" stroke="#1c6fe0" stroke-width="5"/>
<line x1="213.1" y1="773.88" x2="213.1" y2="798.48" stroke="#1c6fe0" stroke-width="5"/>
<line x1="213.1" y1="821.15" x2="213.1" y2="845.75" stroke="#1c6fe0" stroke-width="5"/>
<line x1="213.1" y1="868.42" x2="213.1" y2="893.02" stroke="#1c6fe0" stroke-width="5"/>
<line x1="213.1" y1="915.69" x2="213.1" y2="940.29" stroke="#1c6fe0" stroke-width="5"/>
<line x1="213.1" y1="962.96" x2="213.1" y2="987.56" stroke="#1c6fe0" stroke-width="5"/>
<line x1="342" y1="581.5" x2="342" y2="601.8" stroke="#1c6fe0" stroke-width="4.3"/>
<line x1="342" y1="619.99" x2="342" y2="640.29" stroke="#1c6fe0" stroke-width="4.3"/>
<line x1="342" y1="658.48" x2="342" y2="678.78" stroke="#1c6fe0" stroke-width="4.3"/>
<line x1="342" y1="696.97" x2="342" y2="717.27" stroke="#1c6fe0" stroke-width="4.3"/>
<line x1="342" y1="735.46" x2="342" y2="755.76" stroke="#1c6fe0" stroke-width="4.3"/>
<line x1="342" y1="773.95" x2="342" y2="794.25" stroke="#1c6fe0" stroke-width="4.3"/>
<line x1="342" y1="812.44" x2="342" y2="832.74" stroke="#1c6fe0" stroke-width="4.3"/>
<line x1="342" y1="850.93" x2="342" y2="871.23" stroke="#1c6fe0" stroke-width="4.3"/>
<line x1="342" y1="889.42" x2="342" y2="909.72" stroke="#1c6fe0" stroke-width="4.3"/>
<line x1="342" y1="927.91" x2="342" y2="948.21" stroke="#1c6fe0" stroke-width="4.3"/>
<line x1="342" y1="966.4" x2="342" y2="986.7" stroke="#1c6fe0" stroke-width="4.3"/>
<line x1="471.6" y1="583.1" x2="471.6" y2="603.2" stroke="#1c6fe0" stroke-width="4.2"/>
<line x1="471.6" y1="621.59" x2="471.6" y2="641.69" stroke="#1c6fe0" stroke-width="4.2"/>
<line x1="471.6" y1="660.08" x2="471.6" y2="680.18" stroke="#1c6fe0" stroke-width="4.2"/>
<line x1="471.6" y1="698.57" x2="471.6" y2="718.67" stroke="#1c6fe0" stroke-width="4.2"/>
<line x1="471.6" y1="737.06" x2="471.6" y2="757.16" stroke="#1c6fe0" stroke-width="4.2"/>
<line x1="471.6" y1="775.55" x2="471.6" y2="795.65" stroke="#1c6fe0" stroke-width="4.2"/>
<line x1="471.6" y1="814.04" x2="471.6" y2="834.14" stroke="#1c6fe0" stroke-width="4.2"/>
<line x1="471.6" y1="852.53" x2="471.6" y2="872.63" stroke="#1c6fe0" stroke-width="4.2"/>
<line x1="471.6" y1="891.02" x2="471.6" y2="911.12" stroke="#1c6fe0" stroke-width="4.2"/>
<line x1="471.6" y1="929.51" x2="471.6" y2="949.61" stroke="#1c6fe0" stroke-width="4.2"/>
<line x1="471.6" y1="968" x2="471.6" y2="988" stroke="#1c6fe0" stroke-width="4.2"/>
<path d="M471.8 619.49 L475.87 619.53 L479.94 619.53 L484.01 619.6 L488.07 619.42 L492.14 619.51 L496.21 618.85 L500.28 619.11 L504.35 619.41 L508.42 619.17 L512.49 619.31 L516.56 618.72 L520.62 618.93 L524.69 618.74 L528.76 618.91 L532.83 618.89 L536.9 618.46 L540.97 618.56 L545.04 618.57 L549.11 618.98 L553.17 618.84 L557.24 618.37 L561.31 618.78 L565.38 618.28 L569.45 618.58 L573.52 618.2 L577.59 618.08 L581.66 618.65 L585.73 618.15 L589.79 618.11 L593.86 618.61 L597.93 618.5 L602 618.05" fill="none" stroke="#ee3f40" stroke-width="9.6" stroke-linecap="butt" stroke-linejoin="round"/>
<circle cx="471.8" cy="619.49" r="4.8" fill="#ee3f40"/>
<rect x="147.5" y="628.1" width="366.6" height="311" fill="url(#tealD)"/>
<rect x="472" y="628.1" width="42.1" height="311" fill="#2a786f"/>
<rect x="184.47" y="637.43" width="73.32" height="73.32" fill="#e8ea86"/>
<rect x="397.81" y="637.43" width="73.62" height="73.62" fill="#e8ea86"/>
<rect x="184.17" y="857.38" width="73.02" height="73.62" fill="#f2d2a2"/>
<rect x="296.25" y="858.28" width="73.62" height="72.72" fill="#f2d2a2"/>
<rect x="397.81" y="856.78" width="73.62" height="73.32" fill="#f2d2a2"/>
<rect x="469.1" y="923.2" width="40.5" height="12.3" fill="#fff"/>
<rect x="166.44" y="722.16" width="16.53" height="15.02" fill="#dfe08a" rx="2.4"/>
<text x="167.04" y="717.66" font-size="11" fill="#cfd6a0" text-anchor="start">92</text>
<circle cx="448.89" cy="729.68" r="3.6" fill="#eec98f"/>
<circle cx="505.08" cy="687.61" r="2" fill="#6a5a78"/>
<circle cx="502.08" cy="799.39" r="2" fill="#6a5a78"/>
<circle cx="493.06" cy="909.96" r="2" fill="#6a5a78"/>
<rect x="292.64" y="720.66" width="18.03" height="3.61" fill="#f1d0a0"/>
<rect x="307.07" y="720.66" width="3.61" height="33.05" fill="#f1d0a0"/>
<rect x="292.64" y="753.71" width="32.15" height="3.61" fill="#f1d0a0"/>
<rect x="292.64" y="753.71" width="3.61" height="21.03" fill="#f1d0a0"/>
<rect x="321.19" y="753.71" width="3.61" height="21.03" fill="#f1d0a0"/>
<rect x="336.81" y="753.71" width="33.05" height="3.61" fill="#f1d0a0"/>
<rect x="336.81" y="753.71" width="3.61" height="21.03" fill="#f1d0a0"/>
<rect x="366.26" y="753.71" width="3.61" height="21.03" fill="#f1d0a0"/>
<rect x="278.22" y="753.71" width="3.61" height="92.25" fill="#f1d0a0"/>
<rect x="240.66" y="842.36" width="41.17" height="3.61" fill="#f1d0a0"/>
<rect x="240.66" y="842.36" width="3.61" height="15.02" fill="#f1d0a0"/>
<rect x="381.29" y="752.21" width="3.61" height="93.75" fill="#f1d0a0"/>
<rect x="381.29" y="842.36" width="44.17" height="3.61" fill="#f1d0a0"/>
<rect x="421.85" y="842.36" width="3.61" height="15.02" fill="#f1d0a0"/>
<rect x="292.64" y="815.31" width="3.61" height="30.65" fill="#f1d0a0"/>
<rect x="292.64" y="842.36" width="78.73" height="3.61" fill="#f1d0a0"/>
<rect x="367.76" y="815.31" width="3.61" height="30.65" fill="#f1d0a0"/>
<rect x="331.71" y="845.96" width="3.61" height="12.32" fill="#f1d0a0"/>
<rect x="257.79" y="707.14" width="74.52" height="3.91" fill="#e8ea86"/>
<rect x="328.1" y="707.14" width="4.21" height="46.57" fill="#e8ea86"/>
<rect x="325.7" y="753.71" width="8.11" height="21.94" fill="#e8ea86"/>
<rect x="374.38" y="707.14" width="23.44" height="3.91" fill="#e8ea86"/>
<rect x="373.77" y="707.14" width="4.21" height="46.57" fill="#e8ea86"/>
<rect x="371.37" y="753.71" width="8.11" height="21.94" fill="#e8ea86"/>
<rect x="279.12" y="715.55" width="13.52" height="13.22" fill="#e8ea86" rx="3.61"/>
<rect x="283.63" y="728.77" width="4.21" height="70.61" fill="#e8ea86"/>
<rect x="281.83" y="753.71" width="8.41" height="21.94" fill="#e8ea86"/>
<rect x="283.63" y="795.18" width="93.75" height="4.21" fill="#e8ea86"/>
<rect x="373.17" y="795.18" width="4.21" height="20.13" fill="#e8ea86"/>
<rect x="370.77" y="815.31" width="8.71" height="27.04" fill="#e8ea86"/>
<rect x="281.83" y="815.31" width="8.41" height="25.54" fill="#e8ea86"/>
<rect x="283.63" y="840.85" width="4.21" height="55.59" fill="#e8ea86"/>
<rect x="283.63" y="888.33" width="18.03" height="12.62" fill="#e8ea86" rx="3.61"/>
<text x="297.11" y="670.8" font-size="35.78" fill="#fff" text-anchor="start">AND</text>
<text x="193.3" y="687" font-size="33.51" fill="#000" text-anchor="start">INA</text>
<text x="407.98" y="685.8" font-size="33.69" fill="#000" text-anchor="start">INB</text>
<text x="196.41" y="906.1" font-size="31.94" fill="#000" text-anchor="start" font-style="italic">V</text>
<text x="216.97" y="913.8" font-size="21.99" fill="#000" text-anchor="start">dd</text>
<text x="311.45" y="906.1" font-size="31.48" fill="#000" text-anchor="start" font-style="italic">V</text>
<text x="331.46" y="913.8" font-size="22.16" fill="#000" text-anchor="start">out</text>
<text x="398.75" y="906.1" font-size="33.04" fill="#000" text-anchor="start">GND</text>
<text x="146.7" y="1030.2" font-size="28" fill="#000" text-anchor="middle">(0,0)</text>
<text x="274.5" y="1030.2" font-size="28" fill="#000" text-anchor="middle">(0,1)</text>
<text x="402.3" y="1030.2" font-size="28" fill="#000" text-anchor="middle">(1,0)</text>
<text x="530" y="1030.2" font-size="28" fill="#000" text-anchor="middle">(1,1)</text>
<text x="339" y="1074.4" font-size="34.7" fill="#000" text-anchor="middle">Input state</text>
<text x="0" y="0" font-size="34.7" fill="#000" text-anchor="middle" transform="translate(30.5 780.4) rotate(-90)">AND output (V)</text>
<text x="538.6" y="607.8" font-size="28" fill="#000" text-anchor="middle">1</text>
<text x="149.5" y="967.2" font-size="28" fill="#000" text-anchor="middle">0</text>
<text x="278.7" y="967.2" font-size="28" fill="#000" text-anchor="middle">0</text>
<text x="411.4" y="967.2" font-size="28" fill="#000" text-anchor="middle">0</text>
<text x="-1.5" y="601.6" font-size="55" fill="#000" text-anchor="start">d</text>
<rect x="768" y="573.2" width="520.4" height="419" fill="url(#tealE)"/>
<rect x="804.23" y="603.2" width="101.33" height="101.73" fill="#e6e884"/>
<rect x="1156.06" y="606.42" width="101.73" height="102.13" fill="#e6e884"/>
<rect x="801.42" y="885.47" width="100.52" height="101.73" fill="url(#padE)"/>
<rect x="949.79" y="884.66" width="100.52" height="101.73" fill="url(#padE)"/>
<rect x="1154.05" y="886.67" width="101.33" height="101.33" fill="url(#padE)"/>
<rect x="1237.68" y="975.13" width="45.03" height="12.06" fill="#fff"/>
<rect x="962.7" y="694.06" width="4.73" height="181.01" fill="#f0cba0"/>
<rect x="896.71" y="870.59" width="70.37" height="4.83" fill="#f0cba0"/>
<rect x="896.71" y="870.59" width="6.03" height="16.08" fill="#f0cba0"/>
<rect x="1104.08" y="694.06" width="4.73" height="181.01" fill="#f0cba0"/>
<rect x="1103.79" y="869.78" width="58.3" height="5.63" fill="#f0cba0"/>
<rect x="1156.06" y="869.78" width="6.03" height="17.69" fill="#f0cba0"/>
<rect x="983.7" y="694.06" width="4.44" height="27.8" fill="#f0cba0"/>
<rect x="1023.63" y="694.06" width="4.44" height="27.8" fill="#f0cba0"/>
<rect x="983.7" y="717.72" width="44.37" height="4.14" fill="#f0cba0"/>
<rect x="1044.04" y="694.06" width="4.44" height="27.8" fill="#f0cba0"/>
<rect x="1084.86" y="694.06" width="4.44" height="27.8" fill="#f0cba0"/>
<rect x="1044.04" y="717.72" width="45.25" height="4.14" fill="#f0cba0"/>
<rect x="983.7" y="744.34" width="4.44" height="28.69" fill="#f0cba0"/>
<rect x="1023.63" y="744.34" width="4.44" height="28.69" fill="#f0cba0"/>
<rect x="983.7" y="768.59" width="44.37" height="4.44" fill="#f0cba0"/>
<rect x="1044.04" y="744.34" width="4.44" height="28.69" fill="#f0cba0"/>
<rect x="1084.86" y="744.34" width="4.44" height="28.69" fill="#f0cba0"/>
<rect x="1044.04" y="768.59" width="45.25" height="4.44" fill="#f0cba0"/>
<rect x="983.7" y="793.73" width="4.44" height="30.46" fill="#f0cba0"/>
<rect x="1023.63" y="793.73" width="4.44" height="30.46" fill="#f0cba0"/>
<rect x="983.7" y="819.46" width="44.37" height="4.73" fill="#f0cba0"/>
<rect x="1044.04" y="793.73" width="4.44" height="30.46" fill="#f0cba0"/>
<rect x="1084.86" y="793.73" width="4.44" height="30.46" fill="#f0cba0"/>
<rect x="1044.04" y="819.46" width="45.25" height="4.73" fill="#f0cba0"/>
<rect x="983.7" y="844.01" width="4.44" height="30.46" fill="#f0cba0"/>
<rect x="1023.63" y="844.01" width="4.44" height="30.46" fill="#f0cba0"/>
<rect x="983.7" y="869.74" width="44.37" height="4.73" fill="#f0cba0"/>
<rect x="1044.04" y="844.01" width="4.44" height="30.46" fill="#f0cba0"/>
<rect x="1084.86" y="844.01" width="4.44" height="30.46" fill="#f0cba0"/>
<rect x="1044.04" y="869.74" width="45.25" height="4.73" fill="#f0cba0"/>
<rect x="1001.15" y="673.94" width="4.44" height="44.37" fill="#f0cba0"/>
<rect x="1000.56" y="874.48" width="4.44" height="10.94" fill="#f0cba0"/>
<rect x="970.98" y="694.06" width="10.06" height="27.21" fill="#e6e884"/>
<rect x="1030.43" y="694.06" width="10.65" height="27.21" fill="#e6e884"/>
<rect x="1091.66" y="694.06" width="10.65" height="27.21" fill="#e6e884"/>
<rect x="970.98" y="744.34" width="10.06" height="28.69" fill="#e6e884"/>
<rect x="1030.43" y="744.34" width="10.65" height="28.69" fill="#e6e884"/>
<rect x="1091.66" y="744.34" width="10.65" height="28.69" fill="#e6e884"/>
<rect x="970.98" y="793.73" width="10.06" height="30.46" fill="#e6e884"/>
<rect x="1030.43" y="793.73" width="10.65" height="30.46" fill="#e6e884"/>
<rect x="1091.66" y="793.73" width="10.65" height="30.46" fill="#e6e884"/>
<rect x="970.98" y="844.01" width="10.06" height="29.58" fill="#e6e884"/>
<rect x="1030.43" y="844.01" width="10.65" height="29.58" fill="#e6e884"/>
<rect x="1091.66" y="844.01" width="10.65" height="29.58" fill="#e6e884"/>
<rect x="905.56" y="604" width="133.9" height="6.03" fill="#e6e884"/>
<rect x="1036.05" y="605.32" width="4.44" height="89.32" fill="#e6e884"/>
<rect x="1036.05" y="643.77" width="33.13" height="4.44" fill="#e6e884"/>
<rect x="1064.15" y="643.77" width="5.03" height="92.87" fill="#e6e884"/>
<rect x="1064.15" y="732.21" width="37.86" height="4.44" fill="#e6e884"/>
<rect x="1097.57" y="732.21" width="4.44" height="12.72" fill="#e6e884"/>
<rect x="1096.69" y="608.28" width="60.63" height="5.03" fill="#e6e884"/>
<rect x="1096.69" y="608.28" width="5.03" height="86.36" fill="#e6e884"/>
<rect x="1201.69" y="706.48" width="5.03" height="82.82" fill="#e6e884"/>
<rect x="1093.73" y="784.27" width="112.98" height="5.03" fill="#e6e884"/>
<rect x="1093.73" y="784.27" width="5.03" height="10.94" fill="#e6e884"/>
<rect x="994.65" y="658.27" width="17.15" height="15.68" fill="#e6e884" rx="4.14"/>
<rect x="973.94" y="663.59" width="22.18" height="4.44" fill="#e6e884"/>
<rect x="973.94" y="663.59" width="4.44" height="31.06" fill="#e6e884"/>
<rect x="973.35" y="721.27" width="4.44" height="14.79" fill="#e6e884"/>
<rect x="973.35" y="731.62" width="65.66" height="4.44" fill="#e6e884"/>
<rect x="1033.1" y="731.62" width="4.73" height="113.87" fill="#e6e884"/>
<rect x="996.13" y="762.08" width="16.27" height="16.86" fill="#e6e884" rx="4.14"/>
<rect x="1003.52" y="777.46" width="4.44" height="9.76" fill="#e6e884"/>
<rect x="920.11" y="782.79" width="87.84" height="4.44" fill="#e6e884"/>
<rect x="920.11" y="782.79" width="4.44" height="55.31" fill="#e6e884"/>
<rect x="920.11" y="833.66" width="118.9" height="4.44" fill="#e6e884"/>
<rect x="972.46" y="824.19" width="4.44" height="5.62" fill="#e6e884"/>
<rect x="972.46" y="825.38" width="126.29" height="4.44" fill="#e6e884"/>
<rect x="1094.32" y="825.38" width="4.44" height="20.11" fill="#e6e884"/>
<rect x="996.13" y="812.36" width="17.15" height="15.97" fill="#e6e884" rx="4.14"/>
<rect x="973.06" y="873.59" width="4.73" height="34.01" fill="#e6e884" rx="1.18"/>
<text x="1000.89" y="601.2" font-size="35.8" fill="#fff" text-anchor="start">XOR</text>
<text x="827.72" y="666" font-size="33.26" fill="#000" text-anchor="start">INA</text>
<text x="1177.61" y="667.9" font-size="33.43" fill="#000" text-anchor="start">INB</text>
<text x="829.22" y="948.9" font-size="31.79" fill="#000" text-anchor="start" font-style="italic">V</text>
<text x="849.53" y="956.6" font-size="22.89" fill="#000" text-anchor="start">dd</text>
<text x="975.75" y="948.9" font-size="30.27" fill="#000" text-anchor="start" font-style="italic">V</text>
<text x="994.93" y="956.6" font-size="22.76" fill="#000" text-anchor="start">out</text>
<text x="1168.76" y="948.9" font-size="32.75" fill="#000" text-anchor="start">GND</text>
<text x="693.5" y="600.9" font-size="55" fill="#000" text-anchor="start">e</text>
<line x1="1480" y1="578.9" x2="2000" y2="578.9" stroke="#000" stroke-width="4"/>
<line x1="1482" y1="576.9" x2="1482" y2="996.8" stroke="#000" stroke-width="4"/>
<line x1="1480" y1="994.8" x2="2000" y2="994.8" stroke="#000" stroke-width="4"/>
<line x1="1998" y1="576.9" x2="1998" y2="996.8" stroke="#000" stroke-width="4"/>
<line x1="1484" y1="987.2" x2="1492" y2="987.2" stroke="#000" stroke-width="4"/>
<text x="1467.4" y="995" font-size="28" fill="#000" text-anchor="end">0</text>
<line x1="1484" y1="912.96" x2="1492" y2="912.96" stroke="#000" stroke-width="4"/>
<text x="1467.4" y="924.2" font-size="28" fill="#000" text-anchor="end">1</text>
<line x1="1484" y1="838.72" x2="1492" y2="838.72" stroke="#000" stroke-width="4"/>
<text x="1467.4" y="848.4" font-size="28" fill="#000" text-anchor="end">2</text>
<line x1="1484" y1="764.48" x2="1492" y2="764.48" stroke="#000" stroke-width="4"/>
<text x="1467.4" y="770.1" font-size="28" fill="#000" text-anchor="end">3</text>
<line x1="1484" y1="690.24" x2="1492" y2="690.24" stroke="#000" stroke-width="4"/>
<text x="1467.4" y="697.5" font-size="28" fill="#000" text-anchor="end">4</text>
<line x1="1484" y1="616" x2="1492" y2="616" stroke="#000" stroke-width="4"/>
<text x="1467.4" y="622.3" font-size="28" fill="#000" text-anchor="end">5</text>
<line x1="1611" y1="992.8" x2="1611" y2="985.8" stroke="#000" stroke-width="4"/>
<line x1="1739" y1="992.8" x2="1739" y2="985.8" stroke="#000" stroke-width="4"/>
<line x1="1867.3" y1="992.8" x2="1867.3" y2="985.8" stroke="#000" stroke-width="4"/>
<line x1="1674.4" y1="992.8" x2="1674.4" y2="984.3" stroke="#000" stroke-width="4"/>
<line x1="1802.4" y1="992.8" x2="1802.4" y2="984.3" stroke="#000" stroke-width="4"/>
<path d="M1481.5 987.2 L1611 987.2" fill="none" stroke="#ee3f40" stroke-width="9.8" stroke-linecap="butt" stroke-linejoin="round"/>
<circle cx="1611" cy="987.2" r="4.9" fill="#ee3f40"/>
<path d="M1611.5 621.53 L1615.01 621.66 L1618.51 622.14 L1622.02 621.47 L1625.53 621.5 L1629.03 621.59 L1632.54 620.99 L1636.05 621.42 L1639.55 621.56 L1643.06 621.76 L1646.57 620.76 L1650.08 621.02 L1653.58 620.7 L1657.09 621.68 L1660.6 621.49 L1664.1 620.55 L1667.61 621.84 L1671.12 621.78 L1674.62 621.32 L1678.13 621.24 L1681.64 620.57 L1685.14 620.35 L1688.65 621.04 L1692.16 620.35 L1695.66 620.51 L1699.17 620.55 L1702.68 620.23 L1706.18 620.81 L1709.69 620.75 L1713.2 621.28 L1716.71 620.8 L1720.21 620.95 L1723.72 620.72 L1727.23 620.92 L1730.73 620.61 L1734.24 620.33 L1737.75 621.31 L1741.25 621.28 L1744.76 621.04 L1748.27 620.82 L1751.77 620.25 L1755.28 620.1 L1758.79 620.15 L1762.29 619.82 L1765.8 620.77 L1769.31 620.23 L1772.82 620.82 L1776.32 620.15 L1779.83 620.93 L1783.34 620.74 L1786.84 619.53 L1790.35 619.8 L1793.86 620.75 L1797.36 620.11 L1800.87 620.79 L1804.38 619.95 L1807.88 619.47 L1811.39 620.22 L1814.9 620.4 L1818.4 619.66 L1821.91 619.38 L1825.42 619.69 L1828.92 620.55 L1832.43 620.24 L1835.94 619.31 L1839.45 619.46 L1842.95 619.23 L1846.46 619.15 L1849.97 620.15 L1853.47 619.26 L1856.98 619.77 L1860.49 619.58 L1863.99 619.19 L1867.5 619.92" fill="none" stroke="#ee3f40" stroke-width="10" stroke-linecap="butt" stroke-linejoin="round"/>
<circle cx="1611.5" cy="621.53" r="5" fill="#ee3f40"/>
<circle cx="1867.5" cy="619.92" r="5" fill="#ee3f40"/>
<path d="M1869.5 987.4 L1997.6 987.4" fill="none" stroke="#ee3f40" stroke-width="9.8" stroke-linecap="butt" stroke-linejoin="round"/>
<circle cx="1869.5" cy="987.4" r="4.9" fill="#ee3f40"/>
<line x1="1611" y1="581.9" x2="1611" y2="602.1" stroke="#1c6fe0" stroke-width="3.9"/>
<line x1="1611" y1="620.35" x2="1611" y2="640.55" stroke="#1c6fe0" stroke-width="3.9"/>
<line x1="1611" y1="658.8" x2="1611" y2="679" stroke="#1c6fe0" stroke-width="3.9"/>
<line x1="1611" y1="697.25" x2="1611" y2="717.45" stroke="#1c6fe0" stroke-width="3.9"/>
<line x1="1611" y1="735.7" x2="1611" y2="755.9" stroke="#1c6fe0" stroke-width="3.9"/>
<line x1="1611" y1="774.15" x2="1611" y2="794.35" stroke="#1c6fe0" stroke-width="3.9"/>
<line x1="1611" y1="812.6" x2="1611" y2="832.8" stroke="#1c6fe0" stroke-width="3.9"/>
<line x1="1611" y1="851.05" x2="1611" y2="871.25" stroke="#1c6fe0" stroke-width="3.9"/>
<line x1="1611" y1="889.5" x2="1611" y2="909.7" stroke="#1c6fe0" stroke-width="3.9"/>
<line x1="1611" y1="927.95" x2="1611" y2="948.15" stroke="#1c6fe0" stroke-width="3.9"/>
<line x1="1611" y1="966.4" x2="1611" y2="986.6" stroke="#1c6fe0" stroke-width="3.9"/>
<line x1="1739" y1="581.5" x2="1739" y2="601.7" stroke="#1c6fe0" stroke-width="3.9"/>
<line x1="1739" y1="619.95" x2="1739" y2="640.15" stroke="#1c6fe0" stroke-width="3.9"/>
<line x1="1739" y1="658.4" x2="1739" y2="678.6" stroke="#1c6fe0" stroke-width="3.9"/>
<line x1="1739" y1="696.85" x2="1739" y2="717.05" stroke="#1c6fe0" stroke-width="3.9"/>
<line x1="1739" y1="735.3" x2="1739" y2="755.5" stroke="#1c6fe0" stroke-width="3.9"/>
<line x1="1739" y1="773.75" x2="1739" y2="793.95" stroke="#1c6fe0" stroke-width="3.9"/>
<line x1="1739" y1="812.2" x2="1739" y2="832.4" stroke="#1c6fe0" stroke-width="3.9"/>
<line x1="1739" y1="850.65" x2="1739" y2="870.85" stroke="#1c6fe0" stroke-width="3.9"/>
<line x1="1739" y1="889.1" x2="1739" y2="909.3" stroke="#1c6fe0" stroke-width="3.9"/>
<line x1="1739" y1="927.55" x2="1739" y2="947.75" stroke="#1c6fe0" stroke-width="3.9"/>
<line x1="1739" y1="966" x2="1739" y2="986.2" stroke="#1c6fe0" stroke-width="3.9"/>
<line x1="1867.3" y1="581" x2="1867.3" y2="599.7" stroke="#1c6fe0" stroke-width="3.9"/>
<line x1="1867.3" y1="617.95" x2="1867.3" y2="638.15" stroke="#1c6fe0" stroke-width="3.9"/>
<line x1="1867.3" y1="656.4" x2="1867.3" y2="676.6" stroke="#1c6fe0" stroke-width="3.9"/>
<line x1="1867.3" y1="694.85" x2="1867.3" y2="715.05" stroke="#1c6fe0" stroke-width="3.9"/>
<line x1="1867.3" y1="733.3" x2="1867.3" y2="753.5" stroke="#1c6fe0" stroke-width="3.9"/>
<line x1="1867.3" y1="771.75" x2="1867.3" y2="791.95" stroke="#1c6fe0" stroke-width="3.9"/>
<line x1="1867.3" y1="810.2" x2="1867.3" y2="830.4" stroke="#1c6fe0" stroke-width="3.9"/>
<line x1="1867.3" y1="848.65" x2="1867.3" y2="868.85" stroke="#1c6fe0" stroke-width="3.9"/>
<line x1="1867.3" y1="887.1" x2="1867.3" y2="907.3" stroke="#1c6fe0" stroke-width="3.9"/>
<line x1="1867.3" y1="925.55" x2="1867.3" y2="945.75" stroke="#1c6fe0" stroke-width="3.9"/>
<line x1="1867.3" y1="964" x2="1867.3" y2="984.2" stroke="#1c6fe0" stroke-width="3.9"/>
<text x="1551.7" y="1032.8" font-size="28" fill="#000" text-anchor="middle">(0,0)</text>
<text x="1679.5" y="1032.8" font-size="28" fill="#000" text-anchor="middle">(0,1)</text>
<text x="1807.3" y="1032.8" font-size="28" fill="#000" text-anchor="middle">(1,0)</text>
<text x="1935.1" y="1032.8" font-size="28" fill="#000" text-anchor="middle">(1,1)</text>
<text x="1736" y="1074.4" font-size="34.7" fill="#000" text-anchor="middle">Input state</text>
<text x="0" y="0" font-size="34.7" fill="#000" text-anchor="middle" transform="translate(1430.7 775.9) rotate(-90)">XOR output (V)</text>
<text x="1674.6" y="607.6" font-size="28" fill="#000" text-anchor="middle">1</text>
<text x="1802.6" y="607.6" font-size="28" fill="#000" text-anchor="middle">1</text>
<text x="1545.6" y="966.9" font-size="28" fill="#000" text-anchor="middle">0</text>
<text x="1934" y="966.9" font-size="28" fill="#000" text-anchor="middle">0</text>
<text x="1403" y="595.8" font-size="55" fill="#000" text-anchor="start">f</text>
</svg>
</body></html>
